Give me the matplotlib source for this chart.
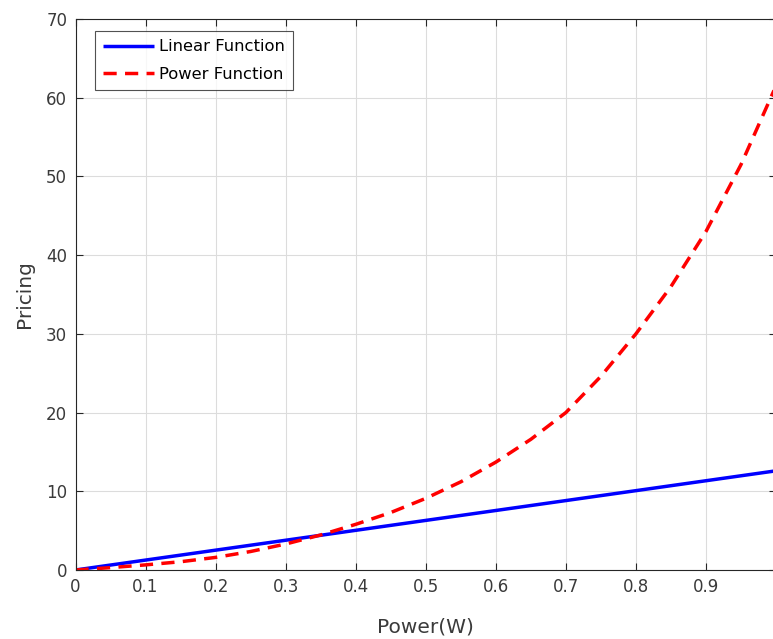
import matplotlib
matplotlib.use("Agg")
import matplotlib.pyplot as plt

# Data
x_vals = [0.0, 0.05, 0.1, 0.15, 0.2, 0.25, 0.3, 0.35, 0.4, 0.45, 0.5,
          0.55, 0.6, 0.65, 0.7, 0.75, 0.8, 0.85, 0.9, 0.95, 1.0]
linear_vals = [0.0, 0.63, 1.26, 1.89, 2.52, 3.15, 3.78, 4.41, 5.04, 5.67, 6.3,
               6.93, 7.56, 8.19, 8.82, 9.45, 10.08, 10.71, 11.34, 11.97, 12.6]
power_vals = [0.0, 0.3, 0.65, 1.05, 1.6, 2.35, 3.3, 4.45, 5.8, 7.3, 9.1,
              11.2, 13.7, 16.6, 20.0, 24.6, 30.0, 36.0, 43.0, 51.5, 61.5]
x_ticks = [0, 0.1, 0.2, 0.3, 0.4, 0.5, 0.6, 0.7, 0.8, 0.9, 1]
x_tick_labels = ["0", "0.1", "0.2", "0.3", "0.4", "0.5", "0.6", "0.7", "0.8", "0.9", "1"]
y_ticks = [0, 10, 20, 30, 40, 50, 60, 70]

plt.rcParams['font.family'] = ['DejaVu Sans']
dark = '#262626'
tickc = '#3a3a3a'

fig = plt.figure(figsize=(7.73, 6.39), dpi=100)
ax = fig.add_axes([75.5 / 773, 1 - 570 / 639, (776 - 75.5) / 773, (570 - 19) / 639])

ax.plot(x_vals, linear_vals, color='#0000ff', lw=2.5, label='Linear Function', solid_capstyle='butt')
ax.plot(x_vals, power_vals, color='#ff0000', lw=2.5, ls=(0, (3.8, 2.4)), label='Power Function')

ax.set_xlim(0, 1)
ax.set_ylim(0, 70)
ax.set_xticks(x_ticks)
ax.set_xticklabels(x_tick_labels)
ax.set_yticks(y_ticks)
ax.grid(True, color='#dcdcdc', lw=0.8)
ax.set_axisbelow(True)
ax.tick_params(direction='in', top=True, right=True, length=5, width=0.8,
               colors=dark, labelcolor=tickc, labelsize=12, pad=6)
for s in ax.spines.values():
    s.set_color(dark)
    s.set_linewidth(0.8)

ax.set_xlabel('Power(W)', fontsize=14.5, color=tickc, labelpad=15)
ax.set_ylabel('Pricing', fontsize=14.5, color=tickc, labelpad=9)

leg = ax.legend(loc='upper left', bbox_to_anchor=(0.028, 0.978), fontsize=11.8,
                frameon=True, fancybox=False, edgecolor=dark, handlelength=3.1,
                handletextpad=0.3, borderpad=0.5, labelspacing=0.75, borderaxespad=0)
leg.get_frame().set_linewidth(0.8)

fig.savefig('out.png', dpi=100)
